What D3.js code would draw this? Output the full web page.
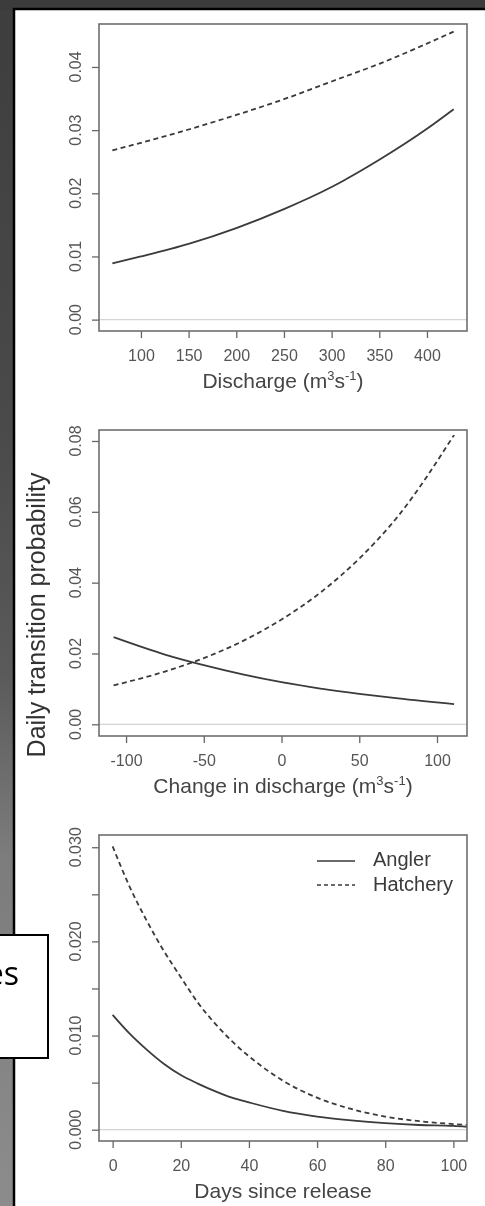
<!DOCTYPE html>
<html>
<head>
<meta charset="utf-8">
<script src="https://cdn.jsdelivr.net/npm/d3@7"></script>
<style>
  html, body { margin: 0; padding: 0; background: #3c3c3c; overflow: hidden; }
  svg { display: block; }
</style>
</head>
<body>
<script>
// panel 1: discharge
const dischargeX = [70, 100, 150, 200, 250, 300, 350, 400, 428]
const dischargeAngler = [0.0089, 0.0100, 0.0120, 0.0145, 0.0175, 0.0210, 0.0253, 0.0302, 0.0333]
const dischargeHatchery = [0.0268, 0.0280, 0.0301, 0.0324, 0.0349, 0.0377, 0.0405, 0.0437, 0.0456]
const dischargeXTicks = [100, 150, 200, 250, 300, 350, 400]
const dischargeYTicks = [0, 0.01, 0.02, 0.03, 0.04]

// panel 2: change in discharge
const changeX = [-108, -75, -50, -25, 0, 25, 50, 75, 111]
const changeAngler = [0.0246, 0.0197, 0.0167, 0.0141, 0.0119, 0.0101, 0.0086, 0.0073, 0.0057]
const changeHatchery = [0.0110, 0.0149, 0.0187, 0.0235, 0.0296, 0.0372, 0.0468, 0.0588, 0.0817]
const changeXTicks = [-100, -50, 0, 50, 100]
const changeYTicks = [0, 0.02, 0.04, 0.06, 0.08]

// panel 3: days since release
const daysX = [0, 5, 10, 15, 20, 25, 30, 35, 40, 50, 60, 70, 80, 90, 100, 104]
const daysAngler = [0.0122, 0.0102, 0.0085, 0.0070, 0.0058, 0.0049, 0.0041, 0.0034, 0.0029, 0.0020, 0.0014, 0.0010, 0.0007, 0.0005, 0.0004, 0.0003]
const daysHatchery = [0.0301, 0.0258, 0.0222, 0.0190, 0.0162, 0.0135, 0.0113, 0.0094, 0.0078, 0.0052, 0.0034, 0.0022, 0.0014, 0.0009, 0.0006, 0.0005]
const daysXTicks = [0, 20, 40, 60, 80, 100]
const daysYTicks = [0, 0.005, 0.01, 0.015, 0.02, 0.025, 0.03]

const legendLabels = ["Angler", "Hatchery"]

const width = 485
const height = 1206
const font = "'Liberation Sans', Arial, sans-serif"
const ink = "#3a3a3a"

const svg = d3.select("body").append("svg")
  .attr("width", width)
  .attr("height", height)

const defs = svg.append("defs")
const grad = defs.append("linearGradient")
  .attr("id", "stone")
  .attr("x1", 0).attr("y1", 0).attr("x2", 0).attr("y2", 1)
grad.selectAll("stop")
  .data([[0, "#3e3e3e"], [0.35, "#4a4a4a"], [0.55, "#5a5a5a"], [0.7, "#7c7c7c"], [1, "#8c8c8c"]])
  .join("stop")
  .attr("offset", d => d[0])
  .attr("stop-color", d => d[1])

// the scanned figure is a bit soft
defs.append("filter")
  .attr("id", "soft")
  .append("feGaussianBlur")
  .attr("stdDeviation", 0.35)

// backdrop
svg.append("rect").attr("width", width).attr("height", height).attr("fill", "#3c3c3c")
svg.append("rect").attr("x", 0).attr("y", 10).attr("width", 14).attr("height", height)
  .attr("fill", "url(#stone)")

// white slide panel, only its top and left edges are in view
svg.append("rect")
  .attr("x", 14).attr("y", 9)
  .attr("width", width).attr("height", height)
  .attr("fill", "#fff")
svg.append("path")
  .attr("d", `M14,${height}V9H${width}`)
  .attr("fill", "none")
  .attr("stroke", "#000")
  .attr("stroke-width", 2.5)

const fig = svg.append("g").attr("filter", "url(#soft)")

const left = 99, right = 467

function panel(opts) {
  const { top, bottom, xDomain, yDomain, xs, angler, hatchery, xTicks, yTicks, yFormat, yLabelEvery, title } = opts

  const x = d3.scaleLinear().domain(xDomain).range([left, right])
  const y = d3.scaleLinear().domain(yDomain).range([bottom, top])
  const g = fig.append("g")

  // zero reference line
  g.append("line")
    .attr("x1", left).attr("x2", right)
    .attr("y1", y(0)).attr("y2", y(0))
    .attr("stroke", "#d4d4d4")
    .attr("stroke-width", 1.2)

  // axes
  const xAxis = g.append("g")
    .attr("transform", `translate(0,${bottom})`)
    .call(d3.axisBottom(x).tickValues(xTicks).tickSize(7).tickFormat(d3.format("d")))
  xAxis.select(".domain").remove()
  xAxis.selectAll("line").attr("stroke", "#666").attr("stroke-width", 1.3)
  xAxis.selectAll("text")
    .attr("y", 30).attr("dy", 0)
    .attr("font-family", font).attr("font-size", 16)
    .attr("fill", "#555")
    .text(d => d < 0 ? "-" + Math.abs(d) : d)

  const yAxis = g.append("g")
    .attr("transform", `translate(${left},0)`)
    .call(d3.axisLeft(y).tickValues(yTicks).tickSize(7).tickFormat(""))
  yAxis.select(".domain").remove()
  yAxis.selectAll("line").attr("stroke", "#666").attr("stroke-width", 1.3)

  g.selectAll(".ylab")
    .data(yTicks.filter((d, i) => i % yLabelEvery === 0))
    .join("text")
    .attr("class", "ylab")
    .attr("transform", d => `translate(81,${y(d)}) rotate(-90)`)
    .attr("text-anchor", "middle")
    .attr("font-family", font).attr("font-size", 16)
    .attr("fill", "#555")
    .text(yFormat)

  // curves
  const line = d3.line()
    .x((d, i) => x(xs[i]))
    .y(d => y(d))
    .curve(d3.curveMonotoneX)

  g.append("path")
    .attr("d", line(angler))
    .attr("fill", "none")
    .attr("stroke", ink)
    .attr("stroke-width", 1.8)

  g.append("path")
    .attr("d", line(hatchery))
    .attr("fill", "none")
    .attr("stroke", ink)
    .attr("stroke-width", 1.8)
    .attr("stroke-dasharray", "5,3.5")

  // frame
  g.append("rect")
    .attr("x", left).attr("y", top)
    .attr("width", right - left).attr("height", bottom - top)
    .attr("fill", "none")
    .attr("stroke", "#6e6e6e")
    .attr("stroke-width", 1.6)

  // axis title
  const t = g.append("text")
    .attr("x", 283).attr("y", bottom + 57)
    .attr("text-anchor", "middle")
    .attr("font-family", font).attr("font-size", 21)
    .attr("fill", "#444")
  t.append("tspan").text(title)
  if (opts.units) {
    t.append("tspan").text(" (m")
    t.append("tspan").attr("font-size", 13).attr("dy", -8).text("3")
    t.append("tspan").attr("dy", 8).text("s")
    t.append("tspan").attr("font-size", 13).attr("dy", -8).text("-1")
    t.append("tspan").attr("dy", 8).text(")")
  }
  return { x, y, g }
}

panel({
  top: 24, bottom: 331,
  xDomain: [56, 442], yDomain: [-0.0018, 0.0468],
  xs: dischargeX, angler: dischargeAngler, hatchery: dischargeHatchery,
  xTicks: dischargeXTicks, yTicks: dischargeYTicks,
  yFormat: d3.format(".2f"), yLabelEvery: 1,
  title: "Discharge", units: true
})

panel({
  top: 430, bottom: 736,
  xDomain: [-117.4, 119.3], yDomain: [-0.0033, 0.0831],
  xs: changeX, angler: changeAngler, hatchery: changeHatchery,
  xTicks: changeXTicks, yTicks: changeYTicks,
  yFormat: d3.format(".2f"), yLabelEvery: 1,
  title: "Change in discharge", units: true
})

const p3 = panel({
  top: 835, bottom: 1141,
  xDomain: [-4, 104], yDomain: [-0.0012, 0.0313],
  xs: daysX, angler: daysAngler, hatchery: daysHatchery,
  xTicks: daysXTicks, yTicks: daysYTicks,
  yFormat: d3.format(".3f"), yLabelEvery: 2,
  title: "Days since release", units: false
})

// shared y title
fig.append("text")
  .attr("transform", "translate(45,615) rotate(-90)")
  .attr("text-anchor", "middle")
  .attr("font-family", font).attr("font-size", 25)
  .attr("fill", "#333")
  .text("Daily transition probability")

// legend
const legend = p3.g.append("g")
legend.selectAll("line")
  .data(legendLabels)
  .join("line")
  .attr("x1", 317).attr("x2", 355)
  .attr("y1", (d, i) => 861 + i * 24).attr("y2", (d, i) => 861 + i * 24)
  .attr("stroke", ink).attr("stroke-width", 1.6)
  .attr("stroke-dasharray", (d, i) => i ? "4,3" : null)
legend.selectAll("text")
  .data(legendLabels)
  .join("text")
  .attr("x", 373)
  .attr("y", (d, i) => 866 + i * 25)
  .attr("font-family", font).attr("font-size", 20)
  .attr("fill", "#3a3a3a")
  .text(d => d)

// overlapping slide text box, cut off at the left edge
svg.append("rect")
  .attr("x", -4).attr("y", 935)
  .attr("width", 52).attr("height", 123)
  .attr("fill", "#fff")
  .attr("stroke", "#000")
  .attr("stroke-width", 2)
svg.append("text")
  .attr("x", 19).attr("y", 985)
  .attr("text-anchor", "end")
  .attr("font-family", "'Open Sans', 'Noto Sans', sans-serif")
  .attr("font-size", 32)
  .attr("fill", "#000")
  .text("es")
</script>
</body>
</html>
